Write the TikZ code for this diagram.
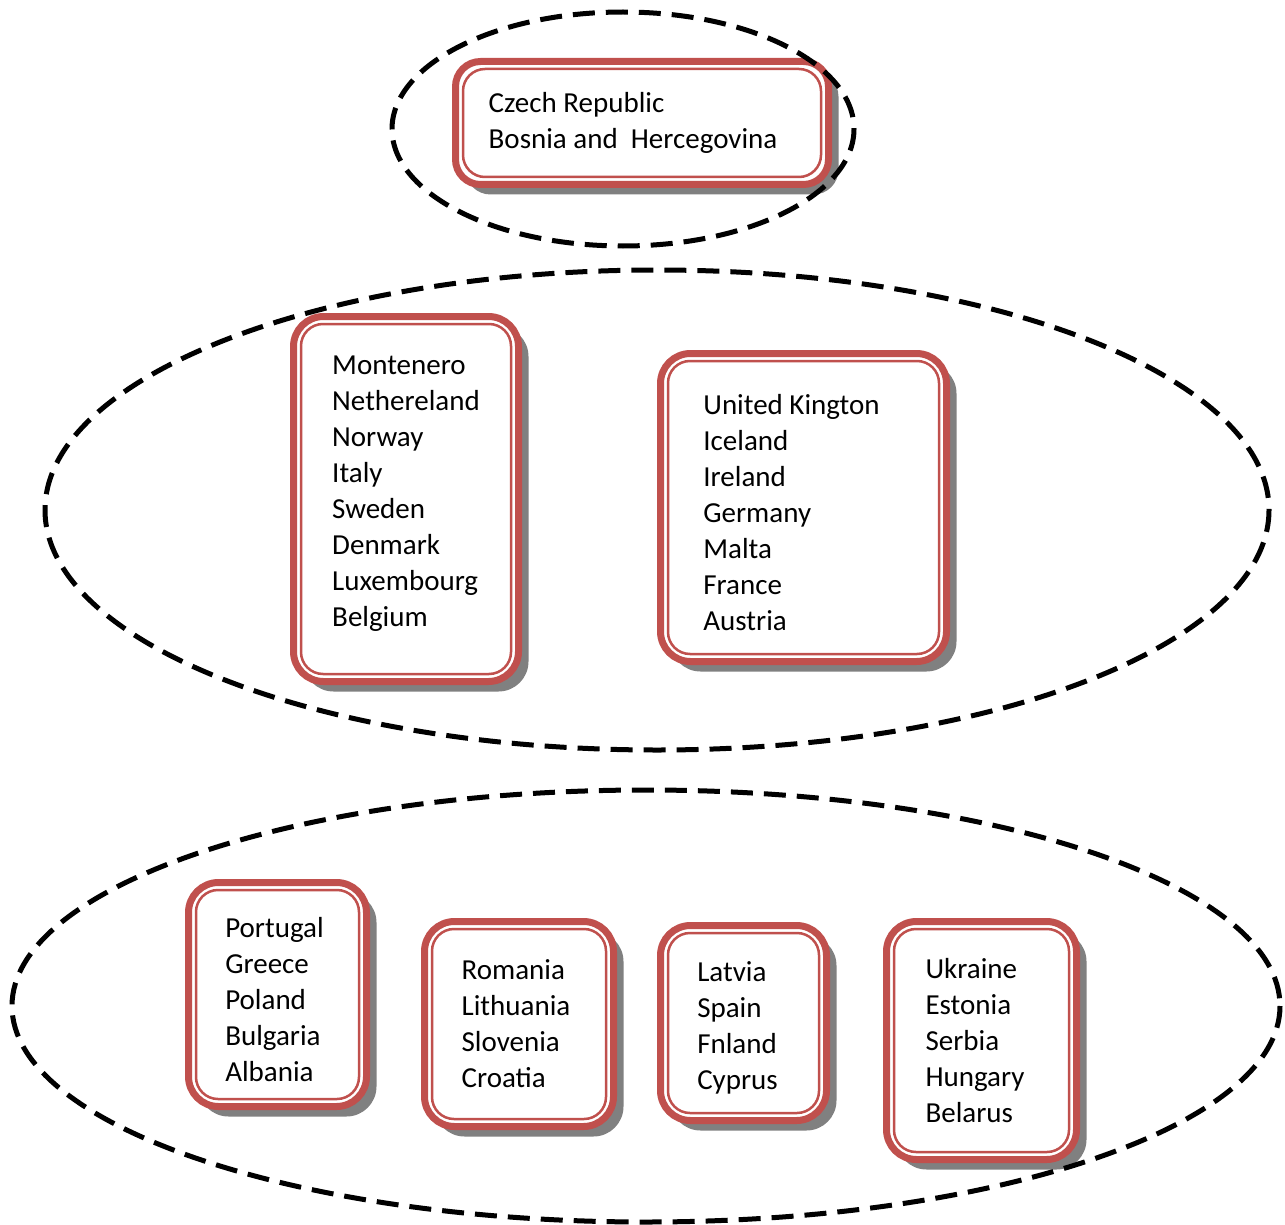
\documentclass[tikz,border=0pt]{standalone}
\usepackage{fontspec}
\setmainfont{Carlito}
\usepackage{tikz}
\usetikzlibrary{shadows}
\usepackage{xcolor}
\definecolor{boxred}{RGB}{192,80,77}
\definecolor{shadowgray}{RGB}{128,128,128}

\begin{document}
\begin{tikzpicture}[x=1pt, y=-1pt,
    cbox/.style={draw=boxred, line width=7pt, fill=white, rounded corners=30pt, inner sep=0pt,
      drop shadow={shadow xshift=10pt, shadow yshift=-10pt, fill=shadowgray, opacity=1},
      path picture={\draw[boxred, line width=2.5pt, rounded corners=22pt]
        ([shift={(7.5pt,-7.5pt)}]path picture bounding box.north west) rectangle
        ([shift={(-7.5pt,7.5pt)}]path picture bounding box.south east);}},
    names/.style={align=left, font=\fontsize{29}{36}\selectfont, inner sep=0pt},
    ring/.style={draw=black, line width=5pt, dash pattern=on 22pt off 11pt},
]
\useasboundingbox (0,0) rectangle (1285,1225);

% top group
\node[cbox, rounded corners=25pt, minimum width=373pt, minimum height=123pt] (czech) at (642,123) {};
\node[names] (czech-list) at (633,123) {Czech Republic\\Bosnia and~ Hercegovina};

% middle group
\node[cbox, minimum width=225pt, minimum height=365pt] (montenero) at (406,499) {};
\node[names] (montenero-list) at (406,494)
  {Montenero\\Nethereland\\Norway\\Italy\\Sweden\\Denmark\\Luxembourg\\Belgium};
\node[cbox, minimum width=286pt, minimum height=308pt] (uk) at (803.5,507.5) {};
\node[names] (uk-list) at (791.5,513)
  {United Kington\\Iceland\\Ireland\\Germany\\Malta\\France\\Austria};

% bottom group
\node[cbox, minimum width=178pt, minimum height=224pt] (portugal) at (277.5,994.5) {};
\node[names] (portugal-list) at (274.5,999.5)
  {Portugal\\Greece\\Poland\\Bulgaria\\Albania};
\node[cbox, minimum width=189pt, minimum height=205pt] (romania) at (519,1024) {};
\node[names] (romania-list) at (516,1024)
  {Romania\\Lithuania\\Slovenia\\Croatia};
\node[cbox, minimum width=166pt, minimum height=195pt] (latvia) at (743.5,1023) {};
\node[names] (latvia-list) at (737.5,1028)
  {Latvia\\Spain\\Fnland\\Cyprus};
\node[cbox, minimum width=190pt, minimum height=238pt] (ukraine) at (981.5,1040.5) {};
\node[names] (ukraine-list) at (975,1041)
  {Ukraine\\Estonia\\Serbia\\Hungary\\Belarus};

% dashed rings
\draw[ring] (623,129) ellipse [x radius=231, y radius=117];
\draw[ring] (657,510) ellipse [x radius=612, y radius=240];
\draw[ring] (646,1006) ellipse [x radius=634, y radius=216];
\end{tikzpicture}
\end{document}
